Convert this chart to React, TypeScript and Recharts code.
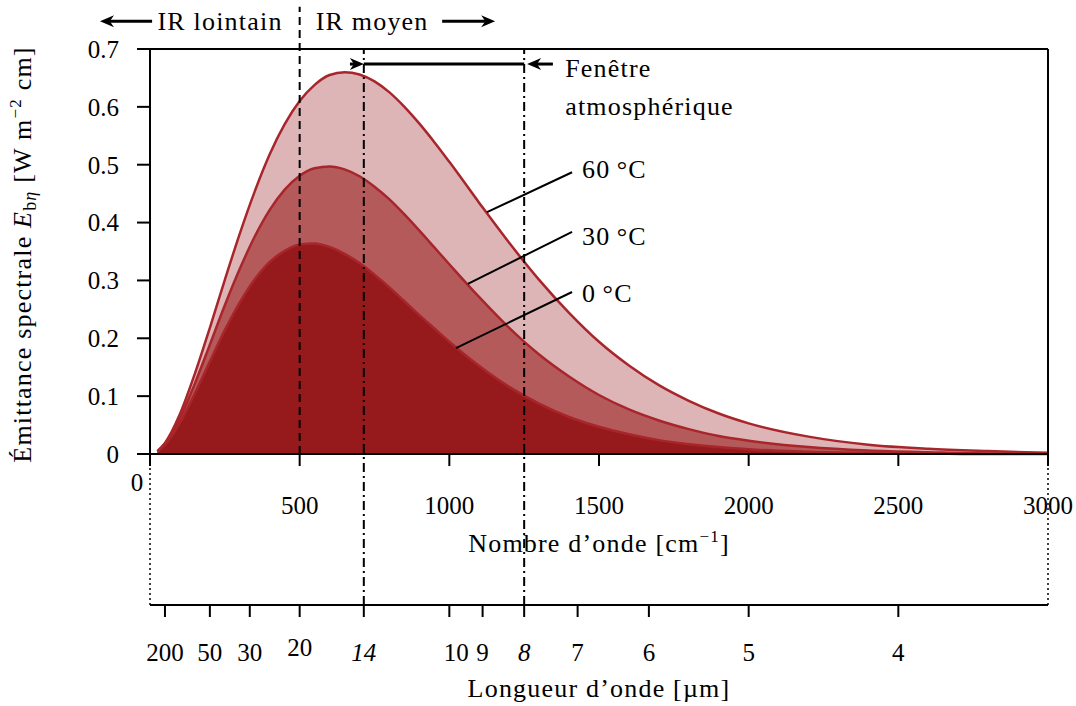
import { ComposedChart, Area, XAxis, YAxis, ReferenceLine, ReferenceDot } from "recharts";

// wavenumber [cm^-1]
const wavenumbers = [25, 50, 100, 150, 200, 250, 300, 350, 400, 450, 500, 550, 600, 650, 700, 750, 800, 850, 900, 950, 1000, 1100, 1200, 1300, 1400, 1500, 1600, 1700, 1800, 1900, 2000, 2200, 2400, 2600, 2800, 3000];
// spectral emittance [W m^-2 cm]
const e0C = [0.004, 0.016, 0.054, 0.105, 0.160, 0.214, 0.262, 0.302, 0.332, 0.351, 0.362, 0.364, 0.358, 0.346, 0.330, 0.310, 0.288, 0.264, 0.240, 0.217, 0.194, 0.152, 0.116, 0.087, 0.064, 0.047, 0.034, 0.024, 0.017, 0.012, 0.008, 0.004, 0.002, 0.001, 0.000, 0.000];
const e30C = [0.005, 0.017, 0.062, 0.122, 0.189, 0.257, 0.320, 0.376, 0.422, 0.457, 0.481, 0.494, 0.497, 0.492, 0.480, 0.462, 0.440, 0.414, 0.386, 0.357, 0.328, 0.271, 0.218, 0.172, 0.134, 0.102, 0.077, 0.058, 0.043, 0.031, 0.023, 0.012, 0.006, 0.003, 0.001, 0.001];
const e60C = [0.005, 0.019, 0.069, 0.139, 0.218, 0.301, 0.381, 0.454, 0.518, 0.570, 0.610, 0.638, 0.655, 0.660, 0.656, 0.644, 0.625, 0.600, 0.571, 0.539, 0.505, 0.434, 0.365, 0.301, 0.244, 0.194, 0.153, 0.119, 0.092, 0.070, 0.053, 0.030, 0.016, 0.009, 0.005, 0.002];

const etaTicks = [0, 500, 1000, 1500, 2000, 2500, 3000];
const yTicks = [0, 0.1, 0.2, 0.3, 0.4, 0.5, 0.6, 0.7];
const lambdaTicks = [200, 50, 30, 20, 14, 10, 9, 8, 7, 6, 5, 4]; // µm
const windowEdges = [14, 8]; // atmospheric window [µm]

const data = wavenumbers.map((eta, i) => ({ eta, t0: e0C[i], t30: e30C[i], t60: e60C[i] }));

const FONT = "Liberation Serif";
const FS = 25; // numbers
const FT = 26; // words
const LS = 1.2;
const INK = "#000";
const STROKE = "#a8262b";

const EtaTick = ({ x, y, payload }: any) =>
  payload.value === 0 ? (
    <text x={x - 13} y={y + 25} textAnchor="middle" fontFamily={FONT} fontSize={FS} fill={INK}>0</text>
  ) : (
    <text x={x} y={y + 48} textAnchor="middle" fontFamily={FONT} fontSize={FS} fill={INK}>{payload.value}</text>
  );

const LambdaTick = ({ x, y, payload }: any) => {
  const lam = Math.round(10000 / payload.value);
  const italic = windowEdges.includes(lam);
  const dx = lam === 10 ? 7 : 0;
  const dy = lam === 20 ? 39 : 44;
  return (
    <text x={x + dx} y={y + dy} textAnchor="middle" fontFamily={FONT} fontSize={FS} fill={INK}
      fontStyle={italic ? "italic" : "normal"}>{lam}</text>
  );
};

const YLabel = ({ viewBox }: any) => {
  const cy = viewBox.y + viewBox.height / 2 + 3;
  return (
    <text transform={`translate(31, ${cy}) rotate(-90)`} textAnchor="middle" fontFamily={FONT} fontSize={FT}
      letterSpacing={LS} fill={INK}>
      Émittance spectrale <tspan fontStyle="italic">E</tspan>
      <tspan fontSize={18} dy={5}>b</tspan><tspan fontSize={18} fontStyle="italic">η</tspan>
      <tspan dy={-5}>{" [W m"}</tspan>
      <tspan fontSize={17} dy={-10}>−2</tspan>
      <tspan dy={10}>{" cm]"}</tspan>
    </text>
  );
};

const EtaLabel = ({ viewBox }: any) => (
  <text x={viewBox.x + viewBox.width / 2} y={viewBox.y + 98} textAnchor="middle" fontFamily={FONT} fontSize={FT}
    letterSpacing={LS} fill={INK}>
    Nombre d’onde [cm<tspan fontSize={17} dy={-10}>−1</tspan><tspan dy={10}>]</tspan>
  </text>
);

const LambdaLabel = ({ viewBox }: any) => (
  <text x={viewBox.x + viewBox.width / 2} y={viewBox.y + 92} textAnchor="middle" fontFamily={FONT} fontSize={FT}
    letterSpacing={LS} fill={INK}>
    Longueur d’onde [µm]
  </text>
);

const arrow = (p: any) => {
  const { x1, y1, x2, y2 } = p;
  const a = Math.atan2(y2 - y1, x2 - x1);
  const L = 14, W = 6;
  const bx = x2 - L * Math.cos(a), by = y2 - L * Math.sin(a);
  const nx = -Math.sin(a), ny = Math.cos(a);
  const mx = x2 - 0.7 * L * Math.cos(a), my = y2 - 0.7 * L * Math.sin(a);
  return (
    <g>
      <line x1={x1} y1={y1} x2={mx} y2={my} stroke={INK} strokeWidth={3} />
      <polygon
        points={`${x2},${y2} ${bx + W * nx},${by + W * ny} ${mx},${my} ${bx - W * nx},${by - W * ny}`}
        fill={INK}
      />
    </g>
  );
};

const label = (text: string, anchor: string = "start") => (p: any) => (
  <text x={p.cx} y={p.cy} textAnchor={anchor} fontFamily={FONT} fontSize={FT} letterSpacing={LS} fill={INK}>{text}</text>
);

const TOP = 0.773;
const LAMBDA_AXIS = -0.261;
const ARROW_Y = 0.748;
const WIN_Y = 0.674;

export default function App() {
  return (
    <div style={{ position: "absolute", left: 0, top: 0, width: 1076, height: 706, background: "#fff" }}>
      <ComposedChart width={1076} height={706} data={data} margin={{ top: 49, right: 28, left: 90, bottom: 0 }}>
        <XAxis xAxisId="eta" dataKey="eta" type="number" domain={[0, 3000]} ticks={etaTicks} height={151}
          tickSize={12} tickMargin={0} tick={<EtaTick />} interval={0}
          axisLine={{ stroke: INK, strokeWidth: 2 }} tickLine={{ stroke: INK, strokeWidth: 2 }}
          label={{ content: <EtaLabel /> }} />
        <XAxis xAxisId="lambda" dataKey="eta" type="number" domain={[0, 3000]}
          ticks={lambdaTicks.map((l) => 10000 / l)} height={101}
          tickSize={12} tickMargin={0} tick={<LambdaTick />} interval={0}
          axisLine={{ stroke: INK, strokeWidth: 2 }} tickLine={{ stroke: INK, strokeWidth: 2 }}
          label={{ content: <LambdaLabel /> }} />
        <YAxis type="number" domain={[0, 0.7]} ticks={yTicks} width={60} tickSize={13} tickMargin={18} interval={0}
          tick={{ fill: INK, fontSize: FS, fontFamily: FONT }}
          axisLine={{ stroke: INK, strokeWidth: 2 }} tickLine={{ stroke: INK, strokeWidth: 2 }}
          label={{ content: <YLabel /> }} />

        <Area xAxisId="eta" type="monotone" dataKey="t60" stroke={STROKE} strokeWidth={2.5} fill="#ddb5b6" fillOpacity={1} dot={false} activeDot={false} isAnimationActive={false} />
        <Area xAxisId="eta" type="monotone" dataKey="t30" stroke={STROKE} strokeWidth={2.5} fill="#b55a5a" fillOpacity={1} dot={false} activeDot={false} isAnimationActive={false} />
        <Area xAxisId="eta" type="monotone" dataKey="t0" stroke={STROKE} strokeWidth={2.5} fill="#961a1c" fillOpacity={1} dot={false} activeDot={false} isAnimationActive={false} />

        {/* frame */}
        <ReferenceLine xAxisId="eta" y={0.7} stroke={INK} strokeWidth={2} />
        <ReferenceLine xAxisId="eta" x={3000} stroke={INK} strokeWidth={2} />

        {/* far / mid IR boundary and atmospheric window */}
        <ReferenceLine xAxisId="eta" segment={[{ x: 500, y: 0 }, { x: 500, y: TOP }]} ifOverflow="visible" stroke={INK} strokeWidth={2} strokeDasharray="8 5" />
        {windowEdges.map((l) => (
          <ReferenceLine key={l} xAxisId="eta" segment={[{ x: 10000 / l, y: LAMBDA_AXIS }, { x: 10000 / l, y: 0.7 }]} ifOverflow="visible" stroke={INK} strokeWidth={2} strokeDasharray="9 4 2 4" />
        ))}
        <ReferenceLine xAxisId="eta" segment={[{ x: 0, y: LAMBDA_AXIS }, { x: 0, y: 0 }]} ifOverflow="visible" stroke={INK} strokeWidth={1.5} strokeDasharray="2 3" />
        <ReferenceLine xAxisId="eta" segment={[{ x: 3000, y: LAMBDA_AXIS }, { x: 3000, y: 0 }]} ifOverflow="visible" stroke={INK} strokeWidth={1.5} strokeDasharray="2 3" />

        {/* top arrows */}
        <ReferenceLine xAxisId="eta" segment={[{ x: 7, y: ARROW_Y }, { x: -167, y: ARROW_Y }]} ifOverflow="visible" shape={arrow} />
        <ReferenceLine xAxisId="eta" segment={[{ x: 976, y: ARROW_Y }, { x: 1153, y: ARROW_Y }]} ifOverflow="visible" shape={arrow} />
        <ReferenceDot xAxisId="eta" x={234} y={0.733} r={0} ifOverflow="visible" shape={label("IR lointain", "middle")} />
        <ReferenceDot xAxisId="eta" x={742} y={0.733} r={0} ifOverflow="visible" shape={label("IR moyen", "middle")} />

        {/* atmospheric window arrow */}
        <ReferenceLine xAxisId="eta" segment={[{ x: 10000 / 14, y: WIN_Y }, { x: 1250, y: WIN_Y }]} ifOverflow="visible" stroke={INK} strokeWidth={3} />
        <ReferenceLine xAxisId="eta" segment={[{ x: 668, y: WIN_Y }, { x: 10000 / 14, y: WIN_Y }]} ifOverflow="visible" shape={arrow} />
        <ReferenceLine xAxisId="eta" segment={[{ x: 1346, y: WIN_Y }, { x: 1260, y: WIN_Y }]} ifOverflow="visible" shape={arrow} />
        <ReferenceDot xAxisId="eta" x={1387} y={0.652} r={0} ifOverflow="visible" shape={label("Fenêtre")} />
        <ReferenceDot xAxisId="eta" x={1387} y={0.586} r={0} ifOverflow="visible" shape={label("atmosphérique")} />

        {/* curve labels */}
        <ReferenceLine xAxisId="eta" segment={[{ x: 1126, y: 0.418 }, { x: 1410, y: 0.487 }]} stroke={INK} strokeWidth={2} ifOverflow="visible" />
        <ReferenceLine xAxisId="eta" segment={[{ x: 1062, y: 0.294 }, { x: 1410, y: 0.384 }]} stroke={INK} strokeWidth={2} ifOverflow="visible" />
        <ReferenceLine xAxisId="eta" segment={[{ x: 1022, y: 0.183 }, { x: 1410, y: 0.280 }]} stroke={INK} strokeWidth={2} ifOverflow="visible" />
        <ReferenceDot xAxisId="eta" x={1443} y={0.477} r={0} ifOverflow="visible" shape={label("60\u2009°C")} />
        <ReferenceDot xAxisId="eta" x={1443} y={0.361} r={0} ifOverflow="visible" shape={label("30\u2009°C")} />
        <ReferenceDot xAxisId="eta" x={1443} y={0.263} r={0} ifOverflow="visible" shape={label("0\u2009°C")} />
      </ComposedChart>
    </div>
  );
}
